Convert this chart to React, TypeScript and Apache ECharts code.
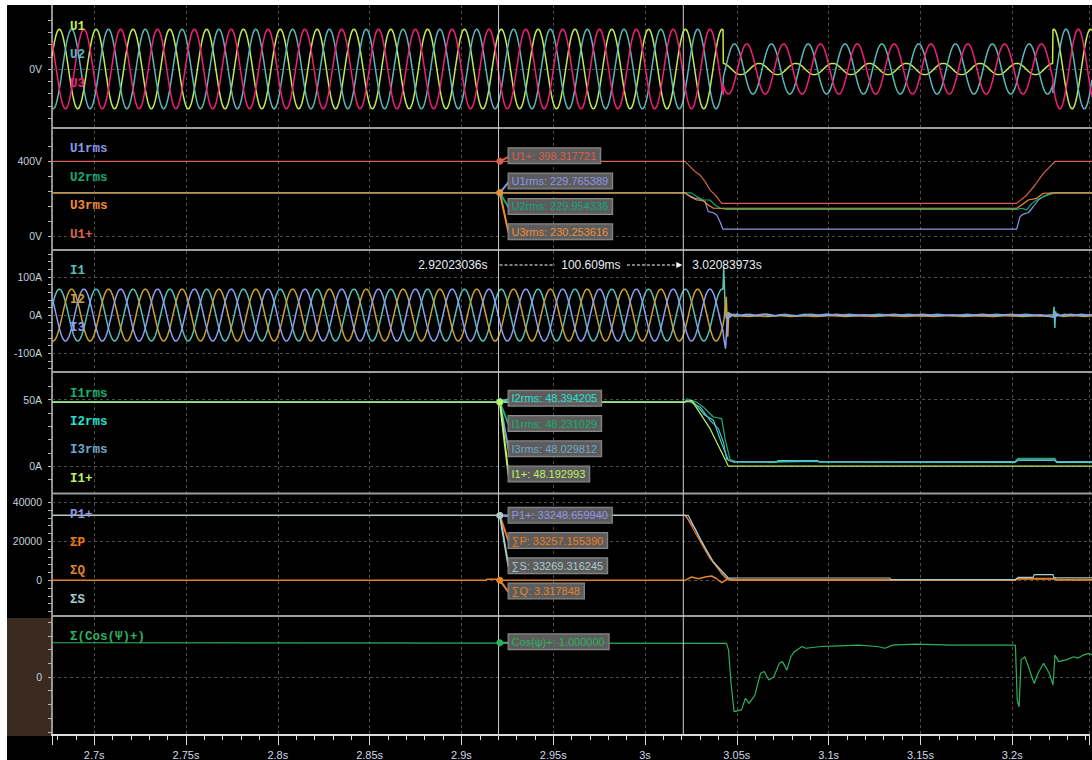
import React, { useEffect, useRef } from "react";
import * as echarts from "echarts";

// ---------------- time axis ----------------
const T_MIN = 2.67703;
const T_MAX = 3.2418;
const CURSOR_T = [2.92023036, 3.02083973];

// ---------------- waveform parameters read from the record (50 Hz) ----------------
const FREQ_HZ = 50;
const PEAK_T = [2.701, 2.70767, 2.71433]; // time of a positive peak, phase 1/2/3
const U_SEG_BOUNDS = [T_MIN, 3.0416, 3.2206, T_MAX];
const U1_AMP = [325, 46, 325];
const U2_AMP = [325, 205, 325];
const U3_AMP = [325, 205, 325];
const I_SEG_BOUNDS = [T_MIN, 3.0414];
const I1_AMP = [68];
const I2_AMP = [68];
const I3_AMP = [68];

// currents after the trip (transient + residual), [t, A]
const I1_TAIL = [[3.0418, 125], [3.0422, 70], [3.0427, 5], [3.0433, -10], [3.044, 8], [3.0447, -5], [3.0455, 4], [3.047, -2], [3.049, 3], [3.052, -3], [3.056, 2], [3.06, -2], [3.065, 3], [3.07, -2], [3.075, 2], [3.08, -3], [3.086, 2], [3.092, -2], [3.098, 3], [3.104, -2], [3.11, 2], [3.118, -2], [3.126, 2], [3.134, -2], [3.142, 2], [3.15, -2], [3.158, 2], [3.166, -2], [3.174, 2], [3.182, -2], [3.19, 2], [3.198, -2], [3.206, 2], [3.214, -2], [3.2208, 1], [3.2212, 22], [3.2216, -34], [3.222, 10], [3.2226, -4], [3.2234, 3], [3.2245, -2], [3.227, 2], [3.231, -2], [3.236, 2], [3.2418, -1]];
const I2_TAIL = [[3.042, -10], [3.0432, 48], [3.044, -57], [3.0446, 8], [3.0452, -6], [3.046, 2], [3.048, -4], [3.051, -1], [3.055, -4], [3.06, -2], [3.066, -4], [3.072, -1], [3.078, -4], [3.085, -2], [3.092, -4], [3.1, -1], [3.108, -4], [3.116, -2], [3.124, -4], [3.132, -1], [3.14, -4], [3.148, -2], [3.156, -4], [3.164, -1], [3.172, -4], [3.18, -2], [3.188, -4], [3.196, -1], [3.204, -4], [3.212, -2], [3.22, -4], [3.2225, 3], [3.226, -4], [3.232, -1], [3.238, -4], [3.2418, -2]];
const I3_TAIL = [[3.0418, -60], [3.0428, -88], [3.0434, -40], [3.0438, 5], [3.0444, -10], [3.045, 4], [3.0458, -4], [3.047, 2], [3.05, -2], [3.054, 2], [3.058, -1], [3.063, 2], [3.069, -2], [3.075, 1], [3.082, -2], [3.089, 2], [3.096, -1], [3.103, 2], [3.11, -2], [3.118, 1], [3.126, -2], [3.134, 2], [3.142, -1], [3.15, 2], [3.158, -2], [3.166, 1], [3.174, -2], [3.182, 2], [3.19, -1], [3.198, 2], [3.206, -2], [3.214, 1], [3.2212, -6], [3.2218, 5], [3.224, -2], [3.23, 2], [3.236, -1], [3.2418, 1]];

// ---------------- cursor readings ----------------
const U1P_CUR = 398.317721;
const U1RMS_CUR = 229.765389;
const U2RMS_CUR = 229.954336;
const U3RMS_CUR = 230.253616;
const I1RMS_CUR = 48.231029;
const I2RMS_CUR = 48.394205;
const I3RMS_CUR = 48.029812;
const I1P_CUR = 48.192993;
const P1P_CUR = 33248.65994;
const SP_CUR = 33257.15539;
const SS_CUR = 33269.316245;
const SQ_CUR = 3.317848;
const COS_CUR = 1.0;

// ---------------- RMS / power / cos series, [t, value] ----------------
const U1RMS = [[T_MIN, U1RMS_CUR], [3.0208, U1RMS_CUR], [3.0226, 218], [3.0263, 201], [3.029, 196], [3.0317, 183], [3.0334, 130], [3.0362, 124], [3.038, 112], [3.0398, 76], [3.0413, 37], [3.2009, 37], [3.2027, 103], [3.2045, 117], [3.2072, 124], [3.2099, 156], [3.2127, 192], [3.2154, 210], [3.219, 227], [3.2217, 229.8], [T_MAX, 229.8]];
const U2RMS = [[T_MIN, U2RMS_CUR], [3.0244, U2RMS_CUR], [3.0271, 210], [3.0307, 192], [3.0344, 192], [3.0371, 165], [3.0398, 148], [3.0434, 142], [3.2009, 142], [3.2036, 148], [3.2063, 139], [3.2091, 174], [3.2118, 192], [3.2154, 210], [3.2181, 219], [3.2217, 230], [T_MAX, 230]];
const U3RMS = [[T_MIN, U3RMS_CUR], [3.0208, U3RMS_CUR], [3.0235, 210], [3.0271, 192], [3.0307, 188], [3.0334, 165], [3.0362, 148], [3.2009, 148], [3.2036, 165], [3.2072, 192], [3.2118, 201], [3.2154, 228], [3.2217, 230.2], [T_MAX, 230.2]];
const U1P = [[T_MIN, U1P_CUR], [3.0208, U1P_CUR], [3.0236, 370], [3.0263, 343], [3.029, 325], [3.0317, 290], [3.0344, 245], [3.0371, 219], [3.0407, 174], [3.2009, 174], [3.2064, 219], [3.2109, 272], [3.2154, 334], [3.2181, 361], [3.2217, 398], [T_MAX, 398]];

const I1RMS = [[T_MIN, I1RMS_CUR], [3.0208, I1RMS_CUR], [3.0217, 50.7], [3.0271, 48.2], [3.0307, 44.5], [3.0362, 37], [3.0407, 35.7], [3.0425, 20.7], [3.0452, 5.3], [3.048, 3.7], [3.07, 3.2], [3.09, 3.6], [3.2, 3.4], [3.2016, 6.0], [3.2217, 6.0], [3.2225, 3.4], [T_MAX, 3.4]];
const I2RMS = [[T_MIN, I2RMS_CUR], [3.0253, I2RMS_CUR], [3.0317, 38.3], [3.0362, 34.5], [3.0407, 17], [3.0443, 4.5], [3.0471, 3.2], [3.0706, 3.2], [3.0712, 4.2], [3.093, 4.2], [3.0936, 3.2], [3.2, 3.0], [3.2016, 4.5], [3.2217, 4.5], [3.2225, 3.0], [T_MAX, 3.0]];
const I3RMS = [[T_MIN, I3RMS_CUR], [3.0208, I3RMS_CUR], [3.0217, 49.5], [3.029, 44.5], [3.0344, 34.5], [3.0389, 28.2], [3.0416, 18.2], [3.0434, 5.3], [3.0465, 3.6], [3.2, 3.6], [3.2016, 4.8], [3.2217, 4.8], [3.2225, 3.6], [T_MAX, 3.6]];
const I1P = [[T_MIN, I1P_CUR], [3.0208, I1P_CUR], [3.0244, 49.5], [3.0344, 28.2], [3.0443, 0.2], [T_MAX, 0.2]];

const P1P = [[T_MIN, P1P_CUR], [3.0208, P1P_CUR], [3.0263, 26460], [3.0326, 14510], [3.0362, 9380], [3.0407, 3380], [3.0434, 820], [3.05, 300], [3.2, 300], [3.2016, 800], [3.2217, 800], [3.2225, 400], [T_MAX, 400]];
const SP = [[T_MIN, SP_CUR], [3.0208, SP_CUR], [3.0217, 32460], [3.0271, 23080], [3.0344, 11080], [3.0425, 1690], [3.045, 200], [3.2, 200], [3.2016, 1000], [3.2217, 1000], [3.2225, 300], [T_MAX, 300]];
const SQ = [[T_MIN, 0], [2.9128, 0], [2.9132, 500], [2.9183, 500], [2.9187, 0], [CURSOR_T[0], SQ_CUR], [3.0208, 0], [3.0244, 1700], [3.0281, 800], [3.0317, 1700], [3.0353, 2200], [3.038, 800], [3.0407, -1200], [3.0434, 500], [3.046, 0], [3.2, 0], [3.2016, 700], [3.2217, 700], [3.2225, 100], [T_MAX, 100]];
const SS = [[T_MIN, SS_CUR], [3.0226, SS_CUR], [3.029, 21330], [3.0362, 9380], [3.0443, 1180], [3.132, 1180], [3.1325, 300], [3.2, 300], [3.2016, 1500], [3.2098, 1500], [3.2104, 2900], [3.2206, 2900], [3.2212, 1200], [T_MAX, 1200]];

const COS = [[T_MIN, COS_CUR], [3.0433, 0.98], [3.0444, 0.79], [3.0458, -0.19], [3.0474, -1.01], [3.0515, -0.96], [3.0536, -0.62], [3.0556, -0.77], [3.0587, -0.53], [3.0618, 0.11], [3.0638, 0.16], [3.0663, -0.09], [3.069, 0.01], [3.072, 0.4], [3.0737, 0.45], [3.0761, 0.2], [3.0782, 0.59], [3.0802, 0.74], [3.0843, 0.89], [3.0864, 0.84], [3.0946, 0.89], [3.1048, 0.91], [3.1151, 0.93], [3.1253, 0.89], [3.1294, 0.84], [3.1335, 0.93], [3.1459, 0.96], [3.1663, 0.93], [3.1869, 0.93], [3.2002, 0.93], [3.2012, -0.67], [3.2022, -0.87], [3.2033, 0.5], [3.2053, 0.59], [3.2073, 0.3], [3.2104, -0.19], [3.2125, 0.11], [3.2155, 0.4], [3.2186, 0.11], [3.2206, -0.23], [3.2217, 0.64], [3.2237, 0.45], [3.2278, 0.5], [3.2319, 0.59], [3.234, 0.55], [3.237, 0.64], [3.2401, 0.69], [T_MAX, 0.64]];

// ---------------- axis tick labels ----------------
const U_TICK_LABELS = [0];
const URMS_TICK_LABELS = [0, 400];
const I_TICK_LABELS = [-100, 0, 100];
const IRMS_TICK_LABELS = [0, 50];
const P_TICK_LABELS = [0, 20000, 40000];
const COS_TICK_LABELS = [0];

// ---------------- colours ----------------
const C = {
  U1: "#c2ec50", U2: "#5cb8b8", U3: "#f0207a",
  U1RMS: "#8c96e8", U2RMS: "#14a874", U3RMS: "#f08c34", U1P: "#d8604c",
  I1: "#58c0b8", I2: "#c8a232", I3: "#8e9ef0",
  I1RMS: "#12b070", I2RMS: "#28e0d0", I3RMS: "#6fa8c8", I1P: "#bef064",
  P1P: "#8c96e8", SP: "#f07a14", SQ: "#e0842c", SS: "#a8cccc",
  COS: "#2eb05e",
};

function sampleWave(bounds: number[], amps: number[], peakT: number, tail: number[][] = []) {
  const out: number[][] = [];
  const step = 0.0004;
  const w = 2 * Math.PI * FREQ_HZ;
  for (let s = 0; s < amps.length; s++) {
    const a = bounds[s];
    const b = bounds[s + 1];
    for (let t = a; t < b; t += step) out.push([t, amps[s] * Math.cos(w * (t - peakT))]);
    out.push([b, amps[s] * Math.cos(w * (b - peakT))]);
  }
  return out.concat(tail);
}

const LEFT = 45;
const GRIDS = [
  { top: 0, height: 732 },
  { top: 15, height: 98 },
  { top: 141, height: 90 },
  { top: 249, height: 114.5 },
  { top: 381.3, height: 93.33 },
  { top: 497.3, height: 109.2 },
  { top: 617.2, height: 109.6 },
];
const Y_CFG = [
  null,
  { min: -400, max: 400, interval: 100, labels: U_TICK_LABELS, unit: "V" },
  { min: 0, max: 480, interval: 80, labels: URMS_TICK_LABELS, unit: "V" },
  { min: -140, max: 160, interval: 20, labels: I_TICK_LABELS, unit: "A" },
  { min: -10, max: 60, interval: 10, labels: IRMS_TICK_LABELS, unit: "A" },
  { min: -16000, max: 40000, interval: 4000, labels: P_TICK_LABELS, unit: "" },
  { min: -1.6, max: 1.6, interval: 0.4, labels: COS_TICK_LABELS, unit: "" },
];

const NAME_FONT = 'bold 12.5px "Liberation Mono", monospace';
const SERIES_DEF = [
  { g: 1, name: "U1", color: C.U1, data: sampleWave(U_SEG_BOUNDS, U1_AMP, PEAK_T[0]), ly: 22, w: 1.5 },
  { g: 1, name: "U2", color: C.U2, data: sampleWave(U_SEG_BOUNDS, U2_AMP, PEAK_T[1]), ly: 50, w: 1.5 },
  { g: 1, name: "U3", color: C.U3, data: sampleWave(U_SEG_BOUNDS, U3_AMP, PEAK_T[2]), ly: 79, w: 1.5 },
  { g: 2, name: "U1rms", color: C.U1RMS, data: U1RMS, ly: 144, w: 1.2 },
  { g: 2, name: "U2rms", color: C.U2RMS, data: U2RMS, ly: 172.5, w: 1.2 },
  { g: 2, name: "U3rms", color: C.U3RMS, data: U3RMS, ly: 201, w: 1.2 },
  { g: 2, name: "U1+", color: C.U1P, data: U1P, ly: 230, w: 1.2 },
  { g: 3, name: "I1", color: C.I1, data: sampleWave(I_SEG_BOUNDS, I1_AMP, PEAK_T[0], I1_TAIL), ly: 266, w: 1.5 },
  { g: 3, name: "I2", color: C.I2, data: sampleWave(I_SEG_BOUNDS, I2_AMP, PEAK_T[1], I2_TAIL), ly: 294.5, w: 1.5 },
  { g: 3, name: "I3", color: C.I3, data: sampleWave(I_SEG_BOUNDS, I3_AMP, PEAK_T[2], I3_TAIL), ly: 323, w: 1.5 },
  { g: 4, name: "I1rms", color: C.I1RMS, data: I1RMS, ly: 388.5, w: 1.2 },
  { g: 4, name: "I2rms", color: C.I2RMS, data: I2RMS, ly: 417, w: 1.2 },
  { g: 4, name: "I3rms", color: C.I3RMS, data: I3RMS, ly: 445, w: 1.2 },
  { g: 4, name: "I1+", color: C.I1P, data: I1P, ly: 473.5, w: 1.2 },
  { g: 5, name: "P1+", color: C.P1P, data: P1P, ly: 510, w: 1.2 },
  { g: 5, name: "ΣP", color: C.SP, data: SP, ly: 538, w: 1.2 },
  { g: 5, name: "ΣQ", color: C.SQ, data: SQ, ly: 566, w: 1.5 },
  { g: 5, name: "ΣS", color: C.SS, data: SS, ly: 595, w: 1.2 },
  { g: 6, name: "Σ(Cos(Ψ)+)", color: C.COS, data: COS, ly: 632, w: 1.2 },
];

const TIP_BLOCKS = [
  { g: 2, top: 143.3, items: [["U1+", U1P_CUR, C.U1P], ["U1rms", U1RMS_CUR, C.U1RMS], ["U2rms", U2RMS_CUR, C.U2RMS], ["U3rms", U3RMS_CUR, C.U3RMS]] },
  { g: 4, top: 385.7, items: [["I2rms", I2RMS_CUR, C.I2RMS], ["I1rms", I1RMS_CUR, C.I1RMS], ["I3rms", I3RMS_CUR, C.I3RMS], ["I1+", I1P_CUR, C.I1P]] },
  { g: 5, top: 502.7, items: [["P1+", P1P_CUR, C.P1P], ["∑P", SP_CUR, C.SP], ["∑S", SS_CUR, C.SS], ["∑Q", SQ_CUR, C.SQ]] },
  { g: 6, top: 629.3, items: [["Cos(ψ)+", COS_CUR, C.COS]] },
];

function fmtNum(v: number) {
  return String(parseFloat(v.toFixed(6)));
}

function buildOption(): any {
  const grid = GRIDS.map((g) => ({ left: LEFT, right: 0, top: g.top, height: g.height }));
  const xAxis = GRIDS.map((_, i) =>
    i === 0
      ? {
          type: "value", gridIndex: 0, min: T_MIN, max: T_MAX, splitNumber: 11,
          minInterval: 0.05, maxInterval: 0.05, position: "bottom",
          axisLine: { show: true, lineStyle: { color: "#dcdcdc", width: 2 } },
          axisTick: { show: true, length: 10, lineStyle: { color: "#dcdcdc" } },
          minorTick: { show: true, splitNumber: 5, length: 5, lineStyle: { color: "#dcdcdc" } },
          axisLabel: {
            color: "#cfd9e6", fontSize: 11, fontFamily: "Liberation Sans", margin: 14,
            formatter: (v: number) => {
              const k = v / 0.05;
              return Math.abs(k - Math.round(k)) < 1e-6 ? `${parseFloat(v.toFixed(2))}s` : "";
            },
          },
          splitLine: { show: true, lineStyle: { color: "#4d4d4d", type: [3, 3], width: 1 } },
        }
      : { type: "value", gridIndex: i, min: T_MIN, max: T_MAX, show: false }
  );
  const yAxis = Y_CFG.map((cfg, i) =>
    cfg === null
      ? {
          type: "value", gridIndex: 0, min: 0, max: 1,
          axisLine: { show: true, lineStyle: { color: "#bdbdbd", width: 1.5 } },
          axisTick: { show: false }, axisLabel: { show: false }, splitLine: { show: false },
        }
      : {
          type: "value", gridIndex: i, min: cfg.min, max: cfg.max, interval: cfg.interval,
          axisLine: { show: false },
          axisTick: { show: true, length: 4, lineStyle: { color: "#b4b4b4" } },
          axisLabel: {
            color: "#c6d2de", fontSize: 10.5, fontFamily: "Liberation Sans", margin: 10,
            formatter: (v: number) =>
              cfg.labels.some((l) => Math.abs(l - v) < 1e-6) ? `${fmtNum(Math.abs(v) < 1e-9 ? 0 : v)}${cfg.unit}` : "",
          },
          splitLine: { show: false },
        }
  );
  const firstInGrid: Record<number, boolean> = {};
  const series = SERIES_DEF.map((s) => {
    const obj: any = {
      type: "line", name: s.name, xAxisIndex: s.g, yAxisIndex: s.g, data: s.data,
      showSymbol: false, symbol: "none", silent: true,
      lineStyle: { color: s.color, width: s.w }, itemStyle: { color: s.color },
      emphasis: { disabled: true },
    };
    if (!firstInGrid[s.g]) {
      firstInGrid[s.g] = true;
      const cfg = Y_CFG[s.g]!;
      obj.markLine = {
        silent: true, symbol: ["none", "none"], label: { show: false },
        lineStyle: { color: "#4d4d4d", type: [3, 3], width: 1 },
        data: cfg.labels.map((v) => ({ yAxis: v })),
        z: 1,
      };
    }
    return obj;
  });
  return {
    animation: false,
    backgroundColor: "#000",
    grid, xAxis, yAxis, series,
  };
}

function buildGraphic(chart: any) {
  const els: any[] = [];
  const X = (t: number) => chart.convertToPixel({ xAxisIndex: 0 }, t) as number;
  const P = (g: number, t: number, v: number) => chart.convertToPixel({ gridIndex: g }, [t, v]) as number[];
  const x1 = X(CURSOR_T[0]);
  const x2 = X(CURSOR_T[1]);

  // brown label strip of the last panel
  els.push({ type: "rect", shape: { x: 0, y: 613, width: LEFT, height: 118 }, style: { fill: "#3a2a1f" }, z: -10 });
  // panel separators
  [123, 245, 367, 488.5, 611].forEach((y) =>
    els.push({ type: "line", shape: { x1: LEFT, y1: y, x2: 1085, y2: y }, style: { stroke: "#9c9c9c", lineWidth: 2 }, z: 5 })
  );
  // cursor lines
  [x1, x2].forEach((x) =>
    els.push({ type: "line", shape: { x1: x, y1: 0, x2: x, y2: 731 }, style: { stroke: "#cfcfcf", lineWidth: 1 }, z: 6 })
  );
  // time difference row
  const ty = 260;
  const mid = (x1 + x2) / 2;
  const tfont = '12px "Liberation Sans", sans-serif';
  els.push({ type: "text", x: x1 - 11, y: ty, z: 20, style: { text: `${CURSOR_T[0].toFixed(8)}s`, fill: "#e6edf5", font: tfont, align: "right", textAlign: "right", verticalAlign: "middle", textVerticalAlign: "middle" } });
  els.push({ type: "text", x: mid, y: ty, z: 20, style: { text: `${((CURSOR_T[1] - CURSOR_T[0]) * 1000).toFixed(3)}ms`, fill: "#e6edf5", font: tfont, align: "center", textAlign: "center", verticalAlign: "middle", textVerticalAlign: "middle" } });
  els.push({ type: "text", x: x2 + 9, y: ty, z: 20, style: { text: `${CURSOR_T[1].toFixed(8)}s`, fill: "#e6edf5", font: tfont, align: "left", textAlign: "left", verticalAlign: "middle", textVerticalAlign: "middle" } });
  els.push({ type: "line", shape: { x1: x1 + 1, y1: ty, x2: mid - 36, y2: ty }, style: { stroke: "#ffffff", lineWidth: 1, lineDash: [3, 2] }, z: 20 });
  els.push({ type: "line", shape: { x1: mid + 36, y1: ty, x2: x2 - 6, y2: ty }, style: { stroke: "#ffffff", lineWidth: 1, lineDash: [3, 2] }, z: 20 });
  els.push({ type: "polygon", shape: { points: [[x2 - 7, ty - 3], [x2 - 1, ty], [x2 - 7, ty + 3]] }, style: { fill: "#ffffff" }, z: 20 });

  // series names
  SERIES_DEF.forEach((s) =>
    els.push({ type: "text", x: 63, y: s.ly, z: 15, style: { text: s.name, fill: s.color, font: NAME_FONT, align: "left", textAlign: "left", verticalAlign: "middle", textVerticalAlign: "middle" } })
  );

  // cursor tooltips
  const step = 25.3;
  TIP_BLOCKS.forEach((b) => {
    b.items.forEach((it: any, k: number) => {
      const [label, value, color] = it;
      const p = P(b.g, CURSOR_T[0], value);
      const boxTop = b.top + k * step;
      els.push({ type: "line", shape: { x1: p[0], y1: p[1], x2: x1 + 10, y2: boxTop + 8.5 }, style: { stroke: color, lineWidth: 2 }, z: 40 });
      els.push({ type: "circle", shape: { cx: p[0], cy: p[1], r: 3.5 }, style: { fill: color }, z: 42 });
      els.push({
        type: "text", x: x1 + 10, y: boxTop, z: 45,
        style: {
          text: `${label}: ${value.toFixed(6)}`, fill: color, font: '11px "Liberation Sans", sans-serif',
          backgroundColor: "rgba(100,100,100,0.92)", borderColor: "#8a8a8a", borderWidth: 1, padding: [2, 4, 2, 3],
          align: "left", textAlign: "left", verticalAlign: "top", textVerticalAlign: "top",
        },
      });
    });
  });
  return els;
}

export default function App() {
  const ref = useRef<HTMLDivElement>(null);
  useEffect(() => {
    const chart = echarts.init(ref.current!, null, { renderer: "svg" });
    chart.setOption(buildOption());
    chart.setOption({ graphic: { elements: buildGraphic(chart) } });
    return () => chart.dispose();
  }, []);
  return (
    <div
      ref={ref}
      style={{ position: "absolute", left: 7, top: 5, width: 1085, height: 755, background: "#000" }}
    />
  );
}
